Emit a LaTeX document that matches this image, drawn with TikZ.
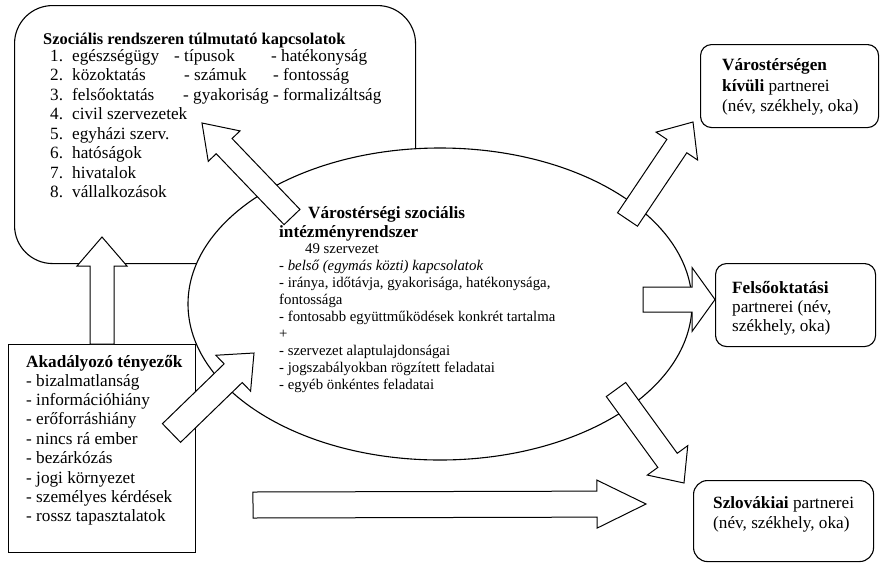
\documentclass[tikz,border=0pt]{standalone}
\usepackage{fontspec}
\setmainfont{Liberation Serif}
\usetikzlibrary{calc,shapes.geometric}

\newcommand\blockarrow[6]{% #1 name, #2 tail, #3 tip, #4 half shaft, #5 half head, #6 head length
  \coordinate (#1-c) at ($(#3)!#6!(#2)$);
  \draw[arrowbox] ($(#2)!#4!90:(#3)$) -- ($(#1-c)!#4!90:(#3)$) -- ($(#1-c)!#5!90:(#3)$) -- (#3)
    -- ($(#1-c)!#5!-90:(#3)$) -- ($(#1-c)!#4!-90:(#3)$) -- ($(#2)!#4!-90:(#3)$) -- cycle;
}

\begin{document}
\begin{tikzpicture}[x=1pt,y=-1pt,
  outline/.style={draw, line width=1.1pt, fill=white, inner sep=0pt},
  arrowbox/.style={draw, fill=white, line width=1pt, line join=miter},
  txt/.style={anchor=base west, inner sep=0pt, font=\fontsize{17.2}{19.4}\selectfont},
  headtxt/.style={anchor=base west, inner sep=0pt, font=\fontsize{16.4}{19.4}\selectfont\bfseries},
  smalltxt/.style={anchor=base west, inner sep=0pt, font=\fontsize{14.8}{17}\selectfont}]
\path[use as bounding box] (0,0) rectangle (880,563);

% boxes
\node[outline, rectangle, rounded corners=38pt, minimum width=401pt, minimum height=258pt, anchor=north west] (social) at (14,5) {};
\node[outline, ellipse, minimum width=504pt, minimum height=312pt] (ell) at (440,304) {};
\node[outline, rectangle, minimum width=187pt, minimum height=208pt, anchor=north west] (obst) at (8,344) {};
\node[outline, rectangle, rounded corners=11pt, minimum width=178pt, minimum height=83pt, anchor=north west] (outside) at (700,44) {};
\node[outline, rectangle, rounded corners=11pt, minimum width=160pt, minimum height=83pt, anchor=north west] (higher) at (715,263) {};
\node[outline, rectangle, rounded corners=14pt, minimum width=180pt, minimum height=81pt, anchor=north west] (slovak) at (693,480) {};

% top-left texts
\node[headtxt] (sh) at (43,44) {Szociális rendszeren túlmutató kapcsolatok};
\foreach \i/\t in {1/egészségügy,2/közoktatás,3/felsőoktatás,4/civil szervezetek,5/egyházi szerv.,6/hatóságok,7/hivatalok,8/vállalkozások}{
  \node[txt] (sn\i) at (50,{61+19.5*(\i-1)}) {\i.};
  \node[txt] (sl\i) at (72,{61+19.5*(\i-1)}) {\t};
}
\node[txt] (c21) at (174,61) {- típusok};
\node[txt] (c22) at (184,80.5) {- számuk};
\node[txt] (c23) at (183,100) {- gyakoriság - formalizáltság};
\node[txt] (c31) at (271,61) {- hatékonyság};
\node[txt] (c32) at (273,80.5) {- fontosság};

% ellipse texts
\node[txt] (eh1) at (308,218) {\bfseries Várostérségi szociális};
\node[txt] (eh2) at (279,237) {\bfseries intézményrendszer};
\node[smalltxt] (e0) at (305,253) {49 szervezet};
\node[smalltxt] (e1) at (279,270) {- \itshape belső (egymás közti) kapcsolatok};
\node[smalltxt] (e2) at (279,287) {- iránya, időtávja, gyakorisága, hatékonysága,};
\node[smalltxt] (e3) at (279,304) {fontossága};
\node[smalltxt] (e4) at (279,321) {- fontosabb együttműködések konkrét tartalma};
\node[smalltxt] (e5) at (279,338) {+};
\node[smalltxt] (e6) at (279,355) {- szervezet alaptulajdonságai};
\node[smalltxt] (e7) at (279,372) {- jogszabályokban rögzített feladatai};
\node[smalltxt] (e8) at (279,389) {- egyéb önkéntes feladatai};

% obstacle texts
\node[txt] (oh) at (26,367) {\bfseries Akadályozó tényezők};
\foreach \i/\t in {1/bizalmatlanság,2/információhiány,3/erőforráshiány,4/nincs rá ember,5/bezárkózás,6/jogi környezet,7/személyes kérdések,8/rossz tapasztalatok}{
  \node[txt] (o\i) at (26,{386+19.4*(\i-1)}) {- \t};
}

% right boxes texts
\node[txt] (r11) at (722,70) {\bfseries Várostérségen};
\node[txt] (r12) at (722,91) {\textbf{kívüli} partnerei};
\node[txt] (r13) at (722,111) {(név, székhely, oka)};
\node[txt] (r21) at (732,293) {\bfseries Felsőoktatási};
\node[txt] (r22) at (732,312) {partnerei (név,};
\node[txt] (r23) at (732,331) {székhely, oka)};
\node[txt] (r31) at (713,508) {\textbf{Szlovákiai} partnerei};
\node[txt] (r32) at (713,528) {(név, székhely, oka)};

% arrow anchor coordinates
\coordinate (a1t) at (102,344); \coordinate (a1h) at (102,237);
\coordinate (a2t) at (292,217); \coordinate (a2h) at (202,123);
\coordinate (a3t) at (171.5,433); \coordinate (a3h) at (254,353);
\coordinate (a4t) at (627.5,219.5); \coordinate (a4h) at (693,122);
\coordinate (a5t) at (643,299.5); \coordinate (a5h) at (715,299.5);
\coordinate (a6t) at (616,389.5); \coordinate (a6h) at (684,483);
\coordinate (a7t) at (253,505); \coordinate (a7h) at (646,504);

\blockarrow{A1}{a1t}{a1h}{12pt}{25pt}{29pt}
\blockarrow{A2}{a2t}{a2h}{11pt}{22pt}{32pt}
\blockarrow{A3}{a3t}{a3h}{13pt}{25pt}{29pt}
\blockarrow{A4}{a4t}{a4h}{12pt}{25pt}{29pt}
\blockarrow{A5}{a5t}{a5h}{12.5pt}{32pt}{23pt}
\blockarrow{A6}{a6t}{a6h}{12pt}{25pt}{28pt}
\blockarrow{A7}{a7t}{a7h}{13pt}{24pt}{49pt}
\end{tikzpicture}
\end{document}
